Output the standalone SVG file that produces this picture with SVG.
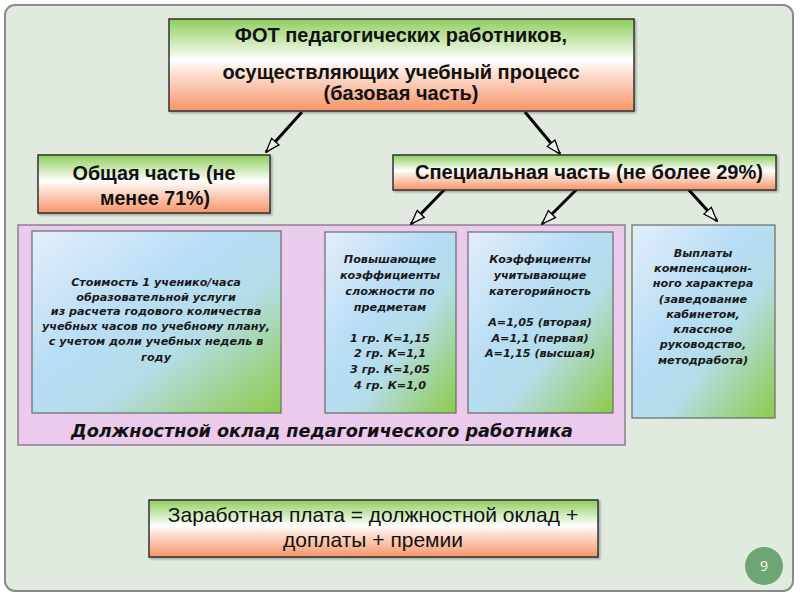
<svg xmlns="http://www.w3.org/2000/svg" width="800" height="600" viewBox="0 0 800 600">
<style>
.hd{font-family:"Liberation Sans",Arial,sans-serif;font-size:20px;font-weight:bold;fill:#111;text-anchor:middle}
.nr{font-family:"Liberation Sans",Arial,sans-serif;font-size:20px;font-weight:bold;fill:#111;text-anchor:middle}
.bt{font-family:"Liberation Sans",Arial,sans-serif;font-size:21px;fill:#111;text-anchor:middle}
.it{font-family:"DejaVu Sans",Verdana,sans-serif;font-size:11.2px;font-weight:bold;font-style:italic;fill:#1a1a1a;text-anchor:middle}
.lb{font-family:"DejaVu Sans",Verdana,sans-serif;font-size:18px;font-weight:bold;font-style:italic;fill:#111;text-anchor:middle}
.nb{stroke:#333;stroke-width:1.5}
.ib{stroke:#6a6a6a;stroke-width:1.2}
.cn line{stroke:#000;stroke-width:3;marker-end:url(#ah)}
</style>
<defs>
<linearGradient id="go" x1="0" y1="0" x2="0" y2="1">
<stop offset="0" stop-color="#8fce5c"/>
<stop offset="0.45" stop-color="#ffffff"/>
<stop offset="0.55" stop-color="#fde9df"/>
<stop offset="1" stop-color="#f79468"/>
</linearGradient>
<linearGradient id="gb" x1="0" y1="0" x2="1" y2="1">
<stop offset="0" stop-color="#e3eef9"/>
<stop offset="0.4" stop-color="#b8ddf6"/>
<stop offset="0.62" stop-color="#b4dde8"/>
<stop offset="1" stop-color="#8ccb48"/>
</linearGradient>
<filter id="sh" x="-5%" y="-5%" width="110%" height="115%">
<feDropShadow dx="1.5" dy="1.5" stdDeviation="1.2" flood-color="#000" flood-opacity="0.3"/>
</filter>
<marker id="ah" viewBox="0 0 16 12" refX="15" refY="6" markerWidth="16" markerHeight="12" markerUnits="userSpaceOnUse" orient="auto">
<path d="M1,1 L15,6 L1,11 Z" fill="#eef2ee" stroke="#000" stroke-width="1.3"/>
</marker>
</defs>
<rect width="800" height="600" fill="#ffffff"/>
<rect x="5" y="5" width="788" height="586" rx="10" fill="#e0eadf" stroke="#8a8a8a" stroke-width="2"/>

<g id="container-oklad">
<rect x="18" y="225" width="607" height="220" fill="#ebcbeb" stroke="#8f7f8f" stroke-width="1.5"/>
<text class="lb" x="322" y="437" textLength="502" lengthAdjust="spacingAndGlyphs">Должностной оклад педагогического работника</text>
</g>

<g class="cn" id="connectors">
<line x1="302" y1="112" x2="266" y2="152"/>
<line x1="525" y1="112" x2="560" y2="154"/>
<line x1="445" y1="189" x2="411" y2="224"/>
<line x1="577" y1="189" x2="542" y2="224"/>
<line x1="688" y1="189" x2="717" y2="221"/>
</g>

<g id="fot">
<rect class="nb" x="169" y="19" width="465" height="92" fill="url(#go)" filter="url(#sh)"/>
<text class="hd" x="401" y="42">ФОТ педагогических работников,</text>
<text class="hd" x="401" y="79">осуществляющих учебный процесс</text>
<text class="hd" x="401" y="100">(базовая часть)</text>
</g>

<g id="obshaya">
<rect class="nb" x="38" y="155" width="232" height="58" fill="url(#go)" filter="url(#sh)"/>
<text class="nr" x="154" y="180" textLength="163" lengthAdjust="spacingAndGlyphs">Общая часть (не</text>
<text class="nr" x="155" y="205" textLength="110" lengthAdjust="spacingAndGlyphs">менее 71%)</text>
</g>

<g id="special">
<rect class="nb" x="393" y="155" width="383" height="35" fill="url(#go)" filter="url(#sh)"/>
<text class="nr" x="589" y="179" textLength="348" lengthAdjust="spacingAndGlyphs">Специальная часть (не более 29%)</text>
</g>

<g id="stoimost">
<rect class="ib" x="32" y="231" width="249" height="182" fill="url(#gb)"/>
<text class="it" x="156" y="286">Стоимость 1 ученико/часа</text>
<text class="it" x="156" y="301">образовательной услуги</text>
<text class="it" x="156" y="315">из расчета годового количества</text>
<text class="it" x="156" y="330">учебных часов по учебному плану,</text>
<text class="it" x="156" y="345">с учетом доли учебных недель в</text>
<text class="it" x="156" y="361">году</text>
</g>

<g id="povysh">
<rect class="ib" x="325" y="232" width="131" height="181" fill="url(#gb)"/>
<text class="it" x="390" y="263">Повышающие</text>
<text class="it" x="390" y="279">коэффициенты</text>
<text class="it" x="390" y="295">сложности по</text>
<text class="it" x="390" y="311">предметам</text>
<text class="it" x="390" y="342">1 гр. К=1,15</text>
<text class="it" x="390" y="357">2 гр. К=1,1</text>
<text class="it" x="390" y="373">3 гр. К=1,05</text>
<text class="it" x="390" y="389">4 гр. К=1,0</text>
</g>

<g id="kategor">
<rect class="ib" x="468" y="232" width="145" height="181" fill="url(#gb)"/>
<text class="it" x="540" y="263">Коэффициенты</text>
<text class="it" x="540" y="279">учитывающие</text>
<text class="it" x="540" y="295">категорийность</text>
<text class="it" x="540" y="326">А=1,05 (вторая)</text>
<text class="it" x="540" y="342">А=1,1 (первая)</text>
<text class="it" x="540" y="357">А=1,15 (высшая)</text>
</g>

<g id="vyplaty">
<rect class="ib" x="632" y="225" width="143" height="193" fill="url(#gb)"/>
<text class="it" x="703" y="257">Выплаты</text>
<text class="it" x="703" y="272">компенсацион-</text>
<text class="it" x="703" y="287">ного характера</text>
<text class="it" x="703" y="303">(заведование</text>
<text class="it" x="703" y="318">кабинетом,</text>
<text class="it" x="703" y="333">классное</text>
<text class="it" x="703" y="348">руководство,</text>
<text class="it" x="703" y="364">методработа)</text>
</g>

<g id="zarplata">
<rect class="nb" x="149" y="500" width="449" height="57" fill="url(#go)" filter="url(#sh)"/>
<text class="bt" x="373" y="522">Заработная плата = должностной оклад +</text>
<text class="bt" x="373" y="547">доплаты + премии</text>
</g>

<g id="page-number">
<circle cx="764" cy="566" r="19" fill="#6ea673"/>
<text x="764" y="571" font-family="'Open Sans','DejaVu Sans',sans-serif" font-size="14" fill="#ffffff" text-anchor="middle">9</text>
</g>
</svg>
